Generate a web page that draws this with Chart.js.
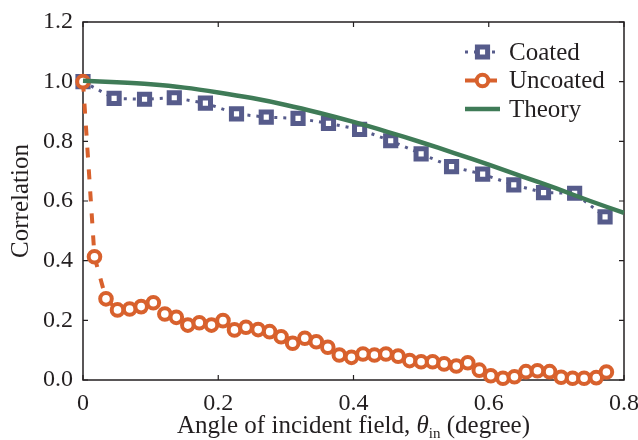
<!DOCTYPE html>
<html>
<head>
<meta charset="utf-8">
<script src="https://cdn.jsdelivr.net/npm/chart.js@4.4.1/dist/chart.umd.min.js"></script>
<style>
  html, body { margin: 0; padding: 0; background: #fff; }
  #wrap { width: 638px; height: 440px; }
</style>
</head>
<body>
<div id="wrap"><canvas id="chart"></canvas></div>
<script>
// angles in degree, correlation
const coatedAngle = [0, 0.046, 0.091, 0.135, 0.181, 0.227, 0.271, 0.318, 0.363, 0.409,
                     0.455, 0.500, 0.545, 0.591, 0.637, 0.681, 0.727, 0.772];
const coatedCorr = [1.0, 0.944, 0.941, 0.946, 0.928, 0.892, 0.881, 0.877, 0.860, 0.840,
                    0.802, 0.758, 0.715, 0.690, 0.654, 0.628, 0.626, 0.547];

const uncoatedAngle = [0, 0.017, 0.034, 0.051, 0.069, 0.086, 0.104, 0.121, 0.138, 0.155,
                       0.172, 0.190, 0.207, 0.224, 0.241, 0.259, 0.276, 0.293, 0.310, 0.328,
                       0.345, 0.362, 0.379, 0.397, 0.414, 0.431, 0.448, 0.466, 0.483, 0.500,
                       0.517, 0.534, 0.552, 0.569, 0.586, 0.603, 0.621, 0.638, 0.655, 0.672,
                       0.690, 0.707, 0.724, 0.741, 0.759, 0.774];
const uncoatedCorr = [1.0, 0.413, 0.272, 0.235, 0.238, 0.246, 0.259, 0.221, 0.210, 0.184,
                      0.192, 0.184, 0.199, 0.168, 0.177, 0.169, 0.162, 0.145, 0.123, 0.140,
                      0.128, 0.110, 0.084, 0.076, 0.087, 0.084, 0.087, 0.080, 0.065, 0.061,
                      0.061, 0.054, 0.047, 0.058, 0.033, 0.014, 0.006, 0.011, 0.028, 0.031,
                      0.028, 0.009, 0.006, 0.006, 0.008, 0.027];

const theoryAngle = [0, 0.05, 0.1, 0.15, 0.2, 0.25, 0.3, 0.35, 0.4, 0.45,
                     0.5, 0.55, 0.6, 0.65, 0.7, 0.75, 0.8];
const theoryCorr = [1.003, 0.998, 0.991, 0.980, 0.964, 0.945, 0.922, 0.895, 0.865, 0.832,
                    0.797, 0.760, 0.722, 0.682, 0.642, 0.600, 0.560];

const xTicks = [0, 0.2, 0.4, 0.6, 0.8];
const yTicks = [0, 0.2, 0.4, 0.6, 0.8, 1.0, 1.2];

const blue = '#565b8b';
const orange = '#d8612d';
const green = '#3f7b57';
const ink = '#231f20';
const serif = '"Times New Roman", "Liberation Serif", Times, serif';

const pairs = (xs, ys) => xs.map((x, i) => ({ x: x, y: ys[i] }));

// box round the plot with small ticks pointing inward on all four sides
const frame = {
    id: 'frame',
    beforeDatasetsDraw(chart) {
        const { ctx, chartArea: a, scales } = chart;
        ctx.save();
        ctx.strokeStyle = ink;
        ctx.lineWidth = 1.5;
        ctx.strokeRect(a.left, a.top, a.right - a.left, a.bottom - a.top);
        ctx.lineWidth = 1.2;
        ctx.beginPath();
        xTicks.forEach(v => {
            const x = scales.x.getPixelForValue(v);
            ctx.moveTo(x, a.bottom); ctx.lineTo(x, a.bottom - 5);
            ctx.moveTo(x, a.top); ctx.lineTo(x, a.top + 5);
        });
        yTicks.forEach(v => {
            const y = scales.y.getPixelForValue(v);
            ctx.moveTo(a.left, y); ctx.lineTo(a.left + 5, y);
            ctx.moveTo(a.right, y); ctx.lineTo(a.right - 5, y);
        });
        ctx.stroke();
        ctx.restore();
    }
};

// legend in the upper right of the plot, and the x title with its subscript
const extras = {
    id: 'extras',
    afterDraw(chart) {
        const { ctx, chartArea: a } = chart;
        ctx.save();
        const x0 = a.right - 159;
        chart.data.datasets.forEach((ds, i) => {
            const y = a.top + 30 + i * 28.5;
            ctx.strokeStyle = ds.borderColor;
            ctx.lineWidth = ds.borderWidth;
            ctx.setLineDash(ds.borderDash || []);
            ctx.beginPath();
            ctx.moveTo(x0, y); ctx.lineTo(x0 + 35, y);
            ctx.stroke();
            ctx.setLineDash([]);
            if (ds.pointRadius > 0) {
                ctx.fillStyle = '#fff';
                ctx.lineWidth = ds.pointBorderWidth;
                Chart.helpers.drawPoint(ctx, {
                    pointStyle: ds.pointStyle, radius: ds.pointRadius,
                    borderWidth: ds.pointBorderWidth, rotation: 0
                }, x0 + 17.5, y);
            }
            ctx.fillStyle = ink;
            ctx.font = '25px ' + serif;
            ctx.textBaseline = 'middle';
            ctx.textAlign = 'left';
            ctx.fillText(ds.label, x0 + 44, y + 1);
        });

        const parts = [
            { t: 'Angle of incident field, ', f: '25px ' + serif, dy: 0 },
            { t: '\u03b8', f: 'italic 25px ' + serif, dy: 0 },
            { t: 'in', f: '15px ' + serif, dy: 5 },
            { t: ' (degree)', f: '25px ' + serif, dy: 0 }
        ];
        let w = 0;
        parts.forEach(p => { ctx.font = p.f; p.w = ctx.measureText(p.t).width; w += p.w; });
        let x = (a.left + a.right) / 2 - w / 2;
        ctx.textBaseline = 'alphabetic';
        ctx.fillStyle = ink;
        parts.forEach(p => { ctx.font = p.f; ctx.fillText(p.t, x, 433 + p.dy); x += p.w; });
        ctx.restore();
    }
};

new Chart(document.getElementById('chart'), {
    type: 'line',
    data: {
        datasets: [{
            label: 'Coated',
            data: pairs(coatedAngle, coatedCorr),
            borderColor: blue,
            borderWidth: 3,
            borderDash: [3, 6],
            pointStyle: 'rect',
            pointRadius: 7.2,
            pointBorderWidth: 5,
            pointBackgroundColor: '#fff',
            pointBorderColor: blue,
            order: 2,
            clip: false
        }, {
            label: 'Uncoated',
            data: pairs(uncoatedAngle, uncoatedCorr),
            borderColor: orange,
            borderWidth: 4,
            borderDash: [10, 12],
            pointStyle: 'circle',
            pointRadius: 5.8,
            pointBorderWidth: 4,
            pointBackgroundColor: '#fff',
            pointBorderColor: orange,
            order: 1,
            clip: false
        }, {
            label: 'Theory',
            data: pairs(theoryAngle, theoryCorr),
            borderColor: green,
            borderWidth: 4.5,
            pointRadius: 0,
            tension: 0.3,
            order: 0,
            clip: false
        }]
    },
    options: {
        responsive: true,
        maintainAspectRatio: false,
        animation: false,
        layout: { padding: { top: 22, right: 14, left: 6, bottom: 0 } },
        plugins: {
            legend: { display: false },
            tooltip: { enabled: false }
        },
        scales: {
            x: {
                type: 'linear',
                min: 0, max: 0.8,
                afterBuildTicks: s => { s.ticks = xTicks.map(v => ({ value: v })); },
                afterFit: s => { s.height = 60; s.paddingLeft = 0; s.paddingRight = 0; },
                grid: { display: false },
                border: { display: false },
                ticks: { color: ink, font: { family: serif, size: 24 }, padding: 1 },
                title: { display: false }
            },
            y: {
                min: 0, max: 1.2,
                afterBuildTicks: s => { s.ticks = yTicks.map(v => ({ value: v })); },
                afterFit: s => { s.width = 77; s.paddingTop = 0; s.paddingBottom = 0; },
                grid: { display: false },
                border: { display: false },
                ticks: {
                    color: ink, font: { family: serif, size: 24 }, padding: 2,
                    callback: v => v.toFixed(1)
                },
                title: {
                    display: true, text: 'Correlation', color: ink,
                    font: { family: serif, size: 25 }, padding: { top: 0, bottom: 4 }
                }
            }
        }
    },
    plugins: [frame, extras]
});
</script>
</body>
</html>
